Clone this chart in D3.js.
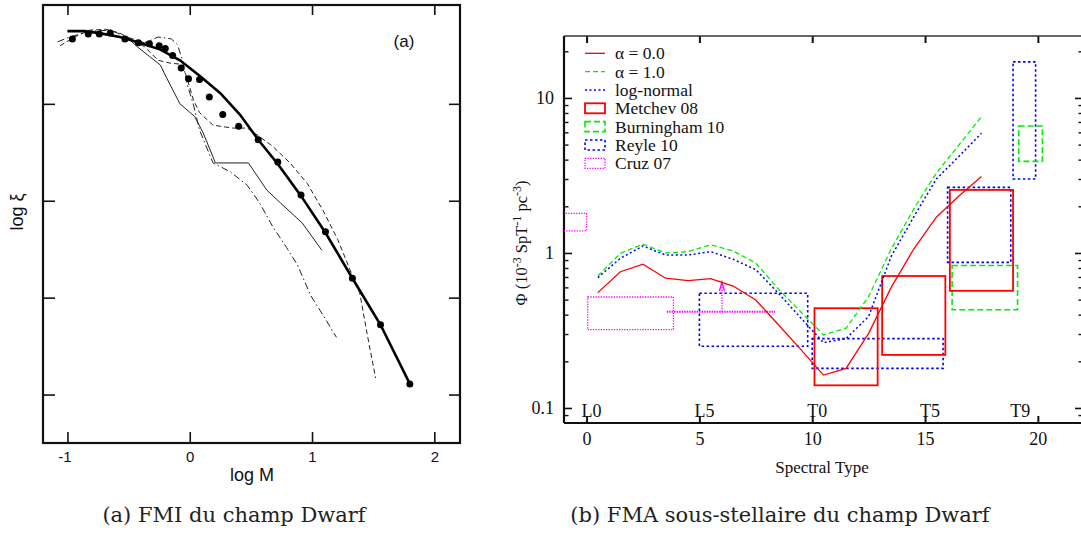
<!DOCTYPE html>
<html>
<head>
<meta charset="utf-8">
<script src="https://cdn.jsdelivr.net/npm/d3@7"></script>
<style>
  body { margin: 0; background: #fff; }
  .sans { font-family: "Liberation Sans", Arial, sans-serif; }
  .serif { font-family: "Liberation Serif", "Times New Roman", serif; }
  .cap { font-family: "DejaVu Serif", serif; }
</style>
</head>
<body>
<div id="chart-area"></div>
<script>
// ---------- panel (a) data : log M vs log xi ----------
const aTicksX = [-1, 0, 1, 2];
const aTicksY = [1, 2, 3, 4];
const aThick = [[-1.00,4.75],[-0.86,4.75],[-0.74,4.73],[-0.57,4.69],[-0.41,4.63],[-0.24,4.56],[-0.08,4.45],
  [0.08,4.29],[0.25,4.11],[0.41,3.89],[0.56,3.63],[0.72,3.38],[0.91,3.05],[1.11,2.67],[1.33,2.20],[1.56,1.72],[1.80,1.11]];
const aDots = [[-0.96,4.67],[-0.83,4.72],[-0.74,4.72],[-0.65,4.73],[-0.53,4.67],[-0.42,4.63],[-0.33,4.62],
  [-0.25,4.60],[-0.20,4.57],[-0.14,4.50],[-0.07,4.37],[-0.01,4.26],[0.08,4.25],[0.16,4.07],[0.27,3.89],
  [0.40,3.77],[0.56,3.63],[0.72,3.40],[0.91,3.06],[1.11,2.68],[1.33,2.20],[1.56,1.72],[1.80,1.11]];
const aThin = [[-0.49,4.66],[-0.43,4.59],[-0.33,4.49],[-0.24,4.40],[-0.19,4.27],[-0.08,4.00],[0.04,3.87],
  [0.11,3.70],[0.21,3.39],[0.48,3.39],[0.63,3.11],[0.74,2.98],[0.92,2.77],[1.08,2.49]];
const aDashDot = [[-1.08,4.64],[-0.98,4.69],[-0.82,4.75],[-0.65,4.76],[-0.49,4.68],[-0.37,4.63],[-0.31,4.66],
  [-0.26,4.69],[-0.15,4.67],[-0.10,4.61],[-0.06,4.45],[-0.02,4.20],[0.03,3.99],[0.08,3.73],[0.19,3.39],
  [0.33,3.30],[0.47,3.16],[0.57,2.98],[0.68,2.73],[0.79,2.52],[0.88,2.34],[0.99,2.02],[1.09,1.82],[1.20,1.59]];
const aDashed = [[-1.06,4.60],[-0.94,4.69],[-0.82,4.76],[-0.69,4.77],[-0.57,4.73],[-0.45,4.64],[-0.37,4.59],
  [-0.26,4.45],[-0.16,4.42],[-0.08,4.41],[-0.03,4.30],[0.03,4.04],[0.08,3.91],[0.19,3.78],[0.35,3.75],
  [0.47,3.75],[0.55,3.68],[0.68,3.56],[0.82,3.39],[0.96,3.18],[1.09,2.90],[1.21,2.60],[1.31,2.29],
  [1.39,2.05],[1.45,1.63],[1.52,1.17]];

// ---------- panel (b) data : spectral type vs Phi ----------
const spt = [0.5,1.5,2.5,3.5,4.5,5.5,6.5,7.5,8.5,9.5,10.5,11.5,12.5,13.5,14.5,15.5,16.5,17.5];
const alpha0 = [0.555,0.757,0.846,0.687,0.663,0.683,0.612,0.497,0.344,0.238,0.163,0.180,0.303,0.60,1.06,1.70,2.33,3.11];
const alpha1 = [0.71,0.995,1.14,1.00,1.02,1.13,1.03,0.86,0.586,0.416,0.296,0.327,0.523,1.06,1.92,3.28,4.97,7.57];
const logNormal = [0.693,0.924,1.11,0.97,0.97,1.02,0.91,0.78,0.55,0.38,0.264,0.28,0.39,0.95,1.71,3.0,4.2,5.92];
const metchev08 = [[10.1,12.9,0.14,0.44],[13.1,15.9,0.22,0.71],[16.1,18.9,0.57,2.55]];
const burningham10 = [[16.2,19.1,0.43,0.83],[19.15,20.2,3.9,6.6]];
const reyle10 = [[5.0,9.8,0.25,0.55],[10.0,15.8,0.18,0.28],[16.0,18.8,0.87,2.65],[18.9,19.9,3.0,17.1]];
const cruz07 = [[-1.5,0,1.39,1.80],[0.05,3.85,0.32,0.52]];
const cruzBar = { x0: 3.55, x1: 8.35, y: 0.418, xArrow: 6.0, yArrow: 0.65 };
const bTicksX = [0, 5, 10, 15, 20];
const bTicksY = [0.1, 1, 10];
const sptLabels = [["L0",0],["L5",5],["T0",10],["T5",15],["T9",19]];
const legendNames = ["α = 0.0","α = 1.0","log-normal","Metchev 08","Burningham 10","Reyle 10","Cruz 07"];

const svg = d3.select("#chart-area").append("svg")
  .attr("width", 1081).attr("height", 537);

// =============== panel (a) ===============
const xa = d3.scaleLinear().domain([-1.2, 2.21]).range([43, 460]);
const ya = d3.scaleLinear().domain([0.5, 5.02]).range([443, 5]);
const ga = svg.append("g");

function styleAxis(sel, width) {
  sel.select(".domain").remove();
  sel.selectAll(".tick line").attr("stroke", "#111").attr("stroke-width", width);
}
ga.append("g").attr("transform", "translate(0,443)")
  .call(d3.axisBottom(xa).tickValues(aTicksX).tickSize(-11).tickPadding(8).tickFormat(d => String(d)))
  .call(s => styleAxis(s, 1.6))
  .selectAll("text").attr("class", "sans").attr("font-size", 15).attr("fill", "#111")
  .attr("dx", d => d < 0 ? "-0.2em" : 0);
ga.append("g").attr("transform", "translate(0,5)")
  .call(d3.axisTop(xa).tickValues(aTicksX).tickSize(-10).tickFormat(""))
  .call(s => styleAxis(s, 1.6));
ga.append("g").attr("transform", "translate(43,0)")
  .call(d3.axisLeft(ya).tickValues(aTicksY).tickSize(-12).tickFormat(""))
  .call(s => styleAxis(s, 1.6));
ga.append("g").attr("transform", "translate(460,0)")
  .call(d3.axisRight(ya).tickValues(aTicksY).tickSize(-11).tickFormat(""))
  .call(s => styleAxis(s, 1.6));
ga.append("rect").attr("x", 43).attr("y", 5).attr("width", 417).attr("height", 438)
  .attr("fill", "none").attr("stroke", "#111").attr("stroke-width", 2.2);

const lineA = d3.line().x(d => xa(d[0])).y(d => ya(d[1]));
ga.append("path").datum(aThin).attr("d", lineA).attr("fill", "none").attr("stroke", "#222").attr("stroke-width", 1);
ga.append("path").datum(aDashDot).attr("d", lineA).attr("fill", "none").attr("stroke", "#222")
  .attr("stroke-width", 1).attr("stroke-dasharray", "7,3,1.5,3");
ga.append("path").datum(aDashed).attr("d", lineA).attr("fill", "none").attr("stroke", "#222")
  .attr("stroke-width", 1).attr("stroke-dasharray", "5,3");
ga.append("path").datum(aThick).attr("d", lineA).attr("fill", "none").attr("stroke", "#000").attr("stroke-width", 2.6);
ga.selectAll("circle.dot").data(aDots).enter().append("circle")
  .attr("cx", d => xa(d[0])).attr("cy", d => ya(d[1])).attr("r", 3.5).attr("fill", "#000");

ga.append("text").attr("class", "sans").attr("x", 404).attr("y", 47).attr("text-anchor", "middle")
  .attr("font-size", 17).attr("fill", "#111").text("(a)");
ga.append("text").attr("class", "sans").attr("x", 252).attr("y", 481).attr("text-anchor", "middle")
  .attr("font-size", 18).attr("fill", "#111").text("log M");
ga.append("text").attr("class", "sans").attr("transform", "translate(23,212) rotate(-90)")
  .attr("text-anchor", "middle").attr("font-size", 18).attr("fill", "#111").text("log ξ");

// =============== panel (b) ===============
const xb = d3.scaleLinear().domain([-1, 22]).range([564, 1083]);
const yb = d3.scaleLog().domain([0.08, 25.1]).range([423, 36]);
const gb = svg.append("g");

gb.append("clipPath").attr("id", "clipB").append("rect")
  .attr("x", 564).attr("y", 36).attr("width", 519).attr("height", 387);

let minorY = [];
[0.01, 0.1, 1, 10].forEach(p => d3.range(2, 10).forEach(k => {
  const v = +(k * p).toPrecision(3);
  if (v > 0.08 && v < 25) minorY.push(v);
}));

gb.append("g").attr("transform", "translate(0,423)")
  .call(d3.axisBottom(xb).tickValues(bTicksX).tickSize(-7).tickPadding(9).tickFormat(d3.format("d")))
  .call(s => styleAxis(s, 2))
  .selectAll("text").attr("class", "serif").attr("font-size", 18).attr("fill", "#111");
gb.append("g").attr("transform", "translate(0,36)")
  .call(d3.axisTop(xb).tickValues(bTicksX).tickSize(-7).tickFormat(""))
  .call(s => styleAxis(s, 2));
[[564, d3.axisLeft], [1083, d3.axisRight]].forEach(([xp, ax], i) => {
  const major = gb.append("g").attr("transform", `translate(${xp},0)`)
    .call(ax(yb).tickValues(bTicksY).tickSize(-8).tickPadding(10)
      .tickFormat(i === 0 ? (d => d < 1 ? "0.1" : d3.format("d")(d)) : ""))
    .call(s => styleAxis(s, 1.6));
  major.selectAll("text").attr("class", "serif").attr("font-size", 18).attr("fill", "#111");
  gb.append("g").attr("transform", `translate(${xp},0)`)
    .call(ax(yb).tickValues(minorY).tickSize(-4.5).tickFormat(""))
    .call(s => styleAxis(s, 1.4));
});
gb.append("line").attr("x1", 564).attr("x2", 1083).attr("y1", 36).attr("y2", 36)
  .attr("stroke", "#333").attr("stroke-width", 1.6);
gb.append("line").attr("x1", 564).attr("x2", 1083).attr("y1", 423).attr("y2", 423)
  .attr("stroke", "#111").attr("stroke-width", 2.2);
gb.append("line").attr("x1", 564).attr("x2", 564).attr("y1", 36).attr("y2", 423)
  .attr("stroke", "#111").attr("stroke-width", 2.2);

gb.selectAll("text.spt").data(sptLabels).enter().append("text")
  .attr("class", "serif").attr("x", d => xb(d[1]) - 5).attr("y", 417)
  .attr("font-size", 18).attr("fill", "#111").text(d => d[0]);

const plot = gb.append("g").attr("clip-path", "url(#clipB)");

function boxes(data, color, dash, width) {
  plot.selectAll(null).data(data).enter().append("rect")
    .attr("x", d => xb(d[0])).attr("width", d => xb(d[1]) - xb(d[0]))
    .attr("y", d => yb(d[3])).attr("height", d => yb(d[2]) - yb(d[3]))
    .attr("fill", "none").attr("stroke", color).attr("stroke-width", width)
    .attr("stroke-dasharray", dash);
}
boxes(cruz07, "#ff00ff", "1.3,1.3", 1.3);
boxes(reyle10, "#0000ff", "2.5,2.5", 1.6);
boxes(burningham10, "#00ee00", "6,3", 1.6);
boxes(metchev08, "#ff0000", null, 1.8);

// Cruz 07 bar + arrow
plot.append("line").attr("x1", xb(cruzBar.x0)).attr("x2", xb(cruzBar.x1))
  .attr("y1", yb(cruzBar.y)).attr("y2", yb(cruzBar.y))
  .attr("stroke", "#ff00ff").attr("stroke-width", 2).attr("stroke-dasharray", "1.5,1");
plot.append("line").attr("x1", xb(cruzBar.xArrow)).attr("x2", xb(cruzBar.xArrow))
  .attr("y1", yb(cruzBar.y)).attr("y2", yb(cruzBar.yArrow))
  .attr("stroke", "#ff00ff").attr("stroke-width", 1.3).attr("stroke-dasharray", "1.3,1.3");
plot.append("path")
  .attr("d", `M${xb(cruzBar.xArrow) - 2.5},${yb(cruzBar.yArrow) + 9}L${xb(cruzBar.xArrow)},${yb(cruzBar.yArrow)}L${xb(cruzBar.xArrow) + 2.5},${yb(cruzBar.yArrow) + 9}`)
  .attr("fill", "none").attr("stroke", "#ff00ff").attr("stroke-width", 1.3);

const lineB = vals => d3.line().x((d, i) => xb(spt[i])).y(d => yb(d))(vals);
plot.append("path").attr("d", lineB(alpha1)).attr("fill", "none").attr("stroke", "#00ee00")
  .attr("stroke-width", 1.3).attr("stroke-dasharray", "5,3");
plot.append("path").attr("d", lineB(logNormal)).attr("fill", "none").attr("stroke", "#0000ff")
  .attr("stroke-width", 1.5).attr("stroke-dasharray", "2,2.5");
plot.append("path").attr("d", lineB(alpha0)).attr("fill", "none").attr("stroke", "#ff0000")
  .attr("stroke-width", 1.3);

// legend
const legStyles = [
  { type: "line", color: "#ff0000", dash: null, w: 1.3 },
  { type: "line", color: "#00ee00", dash: "5,3", w: 1.3 },
  { type: "line", color: "#0000ff", dash: "2,2.5", w: 1.5 },
  { type: "box", color: "#ff0000", dash: null, w: 1.8 },
  { type: "box", color: "#00ee00", dash: "6,3", w: 1.6 },
  { type: "box", color: "#0000ff", dash: "2.5,2.5", w: 1.6 },
  { type: "box", color: "#ff00ff", dash: "1.3,1.3", w: 1.3 }
];
const leg = gb.selectAll("g.leg").data(legendNames).enter().append("g")
  .attr("transform", (d, i) => `translate(585,${53.3 + i * 18.33})`);
leg.each(function(d, i) {
  const s = legStyles[i], g = d3.select(this);
  if (s.type === "line") {
    g.append("line").attr("x1", 0).attr("x2", 20).attr("y1", 0).attr("y2", 0)
      .attr("stroke", s.color).attr("stroke-width", s.w).attr("stroke-dasharray", s.dash);
  } else {
    g.append("rect").attr("x", 0).attr("y", -5).attr("width", 20).attr("height", 10)
      .attr("fill", "none").attr("stroke", s.color).attr("stroke-width", s.w).attr("stroke-dasharray", s.dash);
  }
  g.append("text").attr("class", "serif").attr("x", 30).attr("y", 6)
    .attr("font-size", 17.5).attr("fill", "#111").text(d);
});

gb.append("text").attr("class", "serif").attr("x", 822).attr("y", 473).attr("text-anchor", "middle")
  .attr("font-size", 17).attr("fill", "#111").text("Spectral Type");

const yl = gb.append("text").attr("class", "serif").attr("transform", "translate(527,243) rotate(-90)")
  .attr("text-anchor", "middle").attr("font-size", 16.5).attr("fill", "#111");
yl.append("tspan").text("Φ (10");
yl.append("tspan").attr("dy", -6).attr("font-size", 12).text("-3");
yl.append("tspan").attr("dy", 6).text(" SpT");
yl.append("tspan").attr("dy", -6).attr("font-size", 12).text("-1");
yl.append("tspan").attr("dy", 6).text(" pc");
yl.append("tspan").attr("dy", -6).attr("font-size", 12).text("-3");
yl.append("tspan").attr("dy", 6).text(")");

// captions
svg.append("text").attr("class", "cap").attr("x", 234).attr("y", 522).attr("text-anchor", "middle")
  .attr("font-size", 21).attr("fill", "#222").text("(a) FMI du champ Dwarf");
svg.append("text").attr("class", "cap").attr("x", 780).attr("y", 522).attr("text-anchor", "middle")
  .attr("font-size", 21).attr("fill", "#222").text("(b) FMA sous-stellaire du champ Dwarf");
</script>
</body>
</html>
